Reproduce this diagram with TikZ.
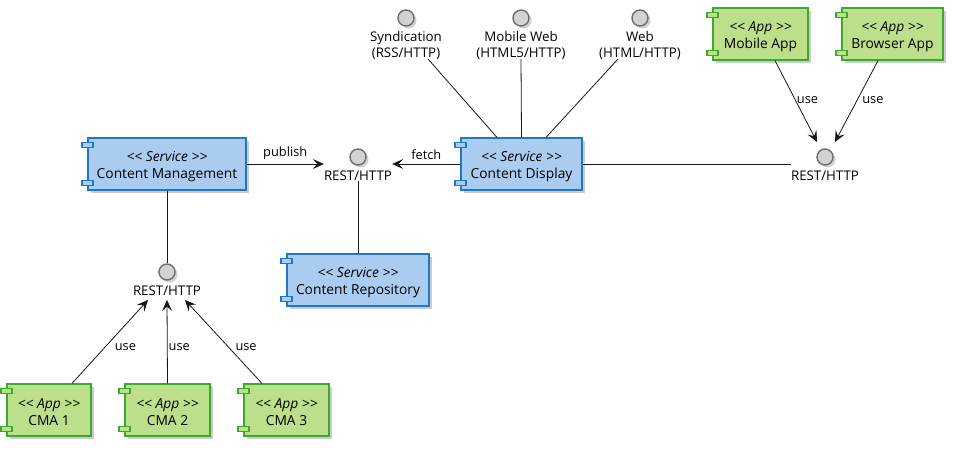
\documentclass[tikz,border=0pt]{standalone}
\usepackage{fontspec}
\setmainfont{Open Sans}
\usetikzlibrary{arrows.meta,calc,shadows}
\definecolor{svcfill}{HTML}{A9CCF0}
\definecolor{svcdraw}{HTML}{1F78C4}
\definecolor{appfill}{HTML}{BDDF8B}
\definecolor{appdraw}{HTML}{3AAA2C}
\definecolor{ifill}{HTML}{D2D2D2}
\definecolor{idraw}{HTML}{6E6E6E}
\definecolor{edgec}{HTML}{181818}
\newcommand\stL{<\kern0pt<}
\newcommand\stR{>\kern0pt>}
\tikzset{
  boxshadow/.style={drop shadow={shadow xshift=3pt,shadow yshift=-3pt,fill=black!45,opacity=.45}},
  svc/.style={draw=svcdraw,fill=svcfill,line width=1.2pt,rectangle,minimum height=52pt,
    inner sep=0pt,boxshadow},
  app/.style={svc,draw=appdraw,fill=appfill},
  boxtext/.style={align=center,font=\fontsize{13.8}{17}\selectfont,inner sep=0pt},
  svcport/.style={draw=svcdraw,fill=svcfill,line width=1.2pt},
  appport/.style={draw=appdraw,fill=appfill,line width=1.2pt},
  iface/.style={circle,draw=idraw,fill=ifill,line width=1.4pt,minimum size=16pt,inner sep=0pt,
    drop shadow={shadow xshift=2.5pt,shadow yshift=-2.5pt,fill=black!45,opacity=.4}},
  ilabel/.style={align=center,font=\fontsize{13.3}{16}\selectfont,inner sep=0pt},
  conn/.style={draw=edgec,line width=0.8pt},
  arr/.style={conn,-{Stealth[length=11pt,width=10pt,inset=4.5pt]}},
  elabel/.style={font=\fontsize{12.8}{15}\selectfont,inner sep=0pt,text=black},
}
\newcommand\ports[2]{%
  \draw[#2] ($(#1.north west)+(-5.5,5)$) rectangle ++(11,5);
  \draw[#2] ($(#1.south west)+(-5.5,-10)$) rectangle ++(11,5);}
\newcommand\boxlabel[3]{\node[boxtext] at ($(#1)+(0,2.5)$) {\textit{\stL{} #2 \stR}\\#3};}
\begin{document}
\begin{tikzpicture}[x=1pt,y=-1pt]
\useasboundingbox[fill=white] (0,0) rectangle (960,448);
% components
\node[svc,minimum width=158pt] (cm) at (167,164) {};
\node[svc,minimum width=121pt] (disp) at (521.5,164) {};
\node[svc,minimum width=142pt] (repo) at (358,280) {};
\node[app,minimum width=95pt] (mob) at (760.5,34) {};
\node[app,minimum width=101pt] (brow) at (892.5,34) {};
\node[app,minimum width=84pt] (cma1) at (49,410) {};
\node[app,minimum width=85pt] (cma2) at (167.5,410) {};
\node[app,minimum width=85pt] (cma3) at (286.5,410) {};
\boxlabel{cm}{Service}{Content Management}
\boxlabel{disp}{Service}{Content Display}
\boxlabel{repo}{Service}{Content Repository}
\boxlabel{mob}{App}{Mobile App}
\boxlabel{brow}{App}{Browser App}
\boxlabel{cma1}{App}{CMA 1}
\boxlabel{cma2}{App}{CMA 2}
\boxlabel{cma3}{App}{CMA 3}
\ports{cm}{svcport}\ports{disp}{svcport}\ports{repo}{svcport}
\ports{mob}{appport}\ports{brow}{appport}
\ports{cma1}{appport}\ports{cma2}{appport}\ports{cma3}{appport}
% interfaces
\node[iface] (i1) at (358,157) {};
\node[ilabel] (l1) at (358,176) {REST/HTTP};
\node[iface] (i2) at (825,157) {};
\node[ilabel] (l2) at (825,176) {REST/HTTP};
\node[iface] (i3) at (167,272) {};
\node[ilabel] (l3) at (167,291) {REST/HTTP};
\node[iface] (isyn) at (406,18) {};
\node[ilabel] (lsyn) at (406,45.5) {Syndication\\(RSS/HTTP)};
\node[iface] (imw) at (521,18) {};
\node[ilabel] (lmw) at (521,45.5) {Mobile Web\\(HTML5/HTTP)};
\node[iface] (iweb) at (640,18) {};
\node[ilabel] (lweb) at (640,45.5) {Web\\(HTML/HTTP)};
% connectors
\draw[arr] (cm.east) -- (cm.east -| l1.west) node[midway,above=4pt,elabel] {publish};
\draw[arr] (disp.west) -- (disp.west -| l1.east) node[midway,above=4pt,elabel] {fetch};
\draw[conn] (disp.east) -- (disp.east -| l2.west);
\draw[conn] (l1.south) -- (repo.north);
\draw[conn] (cm.south) -- (i3.north);
\draw[conn] ($(disp.north)+(-24.5,0)$) -- ($(isyn)+(22,41)$);
\draw[conn] (disp.north) -- ($(imw)+(0,41)$);
\draw[conn] ($(disp.north)+(24.5,0)$) -- ($(iweb)+(-22,41)$);
\draw[arr] ($(cma1.north)+(23,0)$) -- ($(i3)+(-19,28)$) node[pos=.44,anchor=west,xshift=9pt,elabel] {use};
\draw[arr] (cma2.north) -- ($(i3)+(0,28)$) node[pos=.44,anchor=west,xshift=1pt,elabel] {use};
\draw[arr] ($(cma3.north)+(-24.5,0)$) -- ($(i3)+(18,28)$) node[pos=.44,anchor=west,xshift=7pt,elabel] {use};
\draw[arr] ($(mob.south)+(14.5,0)$) -- ($(i2)+(-8,-15)$) node[pos=.49,anchor=west,xshift=1pt,elabel] {use};
\draw[arr] ($(brow.south)+(-14.5,0)$) -- ($(i2)+(10,-15)$) node[pos=.49,anchor=west,xshift=5pt,elabel] {use};
\end{tikzpicture}
\end{document}
